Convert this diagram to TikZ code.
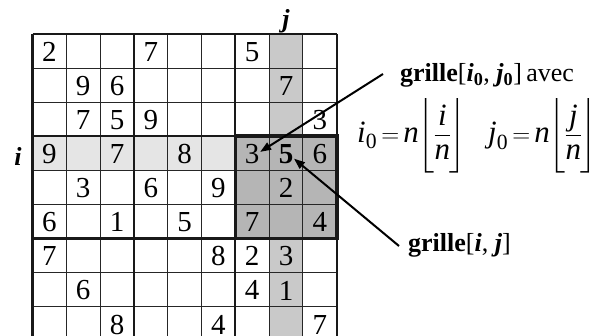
\documentclass[tikz,border=0pt]{standalone}
\usepackage{amsmath}
\usepackage{fontspec}
\setmainfont{Liberation Serif}
\usetikzlibrary{arrows.meta}
\definecolor{rowgray}{gray}{0.9}
\definecolor{colgray}{gray}{0.79}
\definecolor{blockgray}{gray}{0.71}
\newcommand{\bigfont}{\fontsize{26}{30}\selectfont}
\newcommand{\digfont}{\fontsize{29}{32}\selectfont}
\newcommand{\mathfontsz}{\fontsize{31}{34}\selectfont}
\newcommand{\vi}{\textit{i}}
\newcommand{\vj}{\textit{j}}
\newcommand{\vn}{\textit{n}}
\newcommand{\flr}[1]{\delimiterfactor=1000\delimitershortfall=0pt
  \mkern-3mu\left\lfloor\vcenter{\hbox{\rule{0pt}{64pt}}}\mkern-1mu\dfrac{#1}{\vn}\mkern-1mu\right\rfloor}
\begin{document}
\begin{tikzpicture}[x=1pt,y=-1pt,
  cellnum/.style={font=\digfont, inner sep=0.5pt, anchor=center},
  gridthin/.style={line width=1.1pt, black!85},
  gridbox/.style={line width=2.2pt, black!90},
  blockline/.style={line width=3.6pt, black!90},
  lbl/.style={font=\bigfont, inner sep=0pt, anchor=base west},
  formula/.style={font=\mathfontsz, inner sep=0pt, anchor=west},
  arr/.style={line width=2pt, -{Triangle[length=11pt,width=8pt]}}
]
\useasboundingbox (0,0) rectangle (592,336);
\begin{scope}
\clip (0,0) rectangle (592,336);
\begin{scope}[shift={(32.5,34)}, x=33.8pt, y=-34.1pt]
  % shading
  \fill[colgray] (7,0) rectangle (8,9);
  \fill[rowgray] (0,3) rectangle (6,4);
  \fill[blockgray] (6,3) rectangle (9,6);
  % thin grid
  \foreach \k in {1,2,4,5,7,8} {
    \draw[gridthin] (\k,0) -- (\k,9);
    \draw[gridthin] (0,\k) -- (9,\k);
  }
  % box lines
  \foreach \k in {0,3,6,9} {
    \draw[gridbox] (\k,0) -- (\k,9);
    \draw[gridbox] (0,\k) -- (9,\k);
  }
  \draw[blockline] (6,3) rectangle (9,6);
  % digits
  \foreach \r/\c/\d in {0/0/2,0/3/7,0/6/5,
      1/1/9,1/2/6,1/7/7,
      2/1/7,2/2/5,2/3/9,2/8/3,
      3/0/9,3/2/7,3/4/8,3/6/3,3/8/6,
      4/1/3,4/3/6,4/5/9,4/7/2,
      5/0/6,5/2/1,5/4/5,5/6/7,5/8/4,
      6/0/7,6/5/8,6/6/2,6/7/3,
      7/1/6,7/6/4,7/7/1,
      8/2/8,8/5/4,8/8/7} {
    \node[cellnum] (d\r\c) at (\c+0.5,\r+0.52) {\d};
  }
  \node[cellnum] (d37) at (7.5,3.52) {\textbf{5}};
  \node[font=\bigfont\bfseries\itshape, inner sep=0pt, anchor=base] (lj) at (7.5,-0.2) {j};
  \node[font=\bigfont\bfseries\itshape, inner sep=0pt, anchor=base] (li) at (-0.43,3.85) {i};
\end{scope}
\end{scope}
% labels
\node[lbl] (g0) at (400,82) {\textbf{grille}[\textbf{\vi}\textsubscript{\textbf{0}}, \textbf{\vj}\textsubscript{\textbf{0}}]\,avec};
\node[lbl] (g1) at (408,252) {\textbf{grille}[\textbf{\vi}, \textbf{\vj}]};
\node[formula] (f0) at (357,136) {$\vi_{\text{0}} \mkern-2mu=\mkern-2mu \vn\flr{\vi}$};
\node[formula] (f1) at (488,136) {$\vj_{\text{0}} \mkern-2mu=\mkern-2mu \vn\flr{\vj}$};
% arrows
\coordinate (s0) at (383,74);
\coordinate (s1) at (399,246);
\draw[arr] (s0) -- (d36.15);
\draw[arr] (s1) -- (d37.-30);
\end{tikzpicture}
\end{document}
